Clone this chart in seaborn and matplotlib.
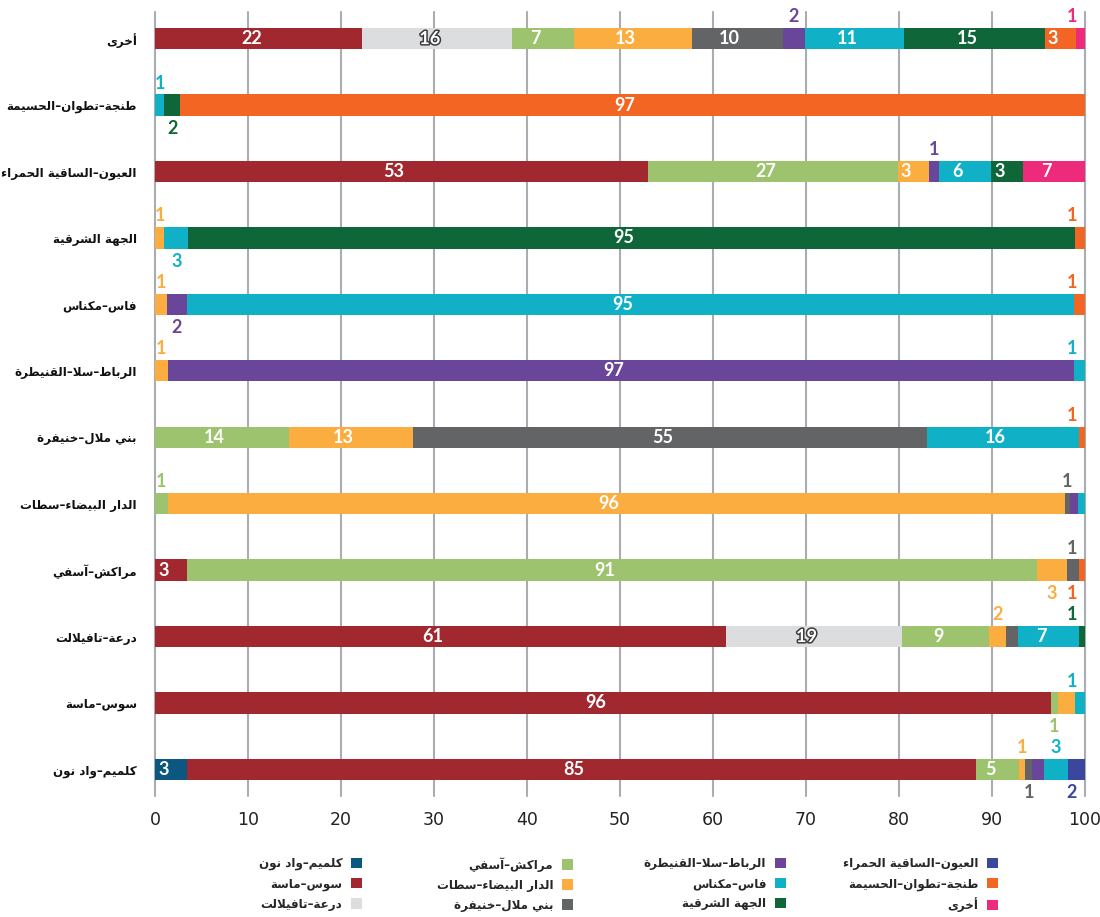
import numpy as np
import matplotlib
matplotlib.use("Agg")
import matplotlib.pyplot as plt
import matplotlib.patheffects as pe
from matplotlib.patches import Patch
import seaborn as sns

# Destination regions, top to bottom
regions = ["أخرى", "طنجة–تطوان–الحسيمة", "العيون–الساقية الحمراء", "الجهة الشرقية",
           "فاس–مكناس", "الرباط–سلا–القنيطرة", "بني ملال–خنيفرة", "الدار البيضاء–سطات",
           "مراكش–آسفي", "درعة–تافيلالت", "سوس–ماسة", "كلميم–واد نون"]

# Source regions, in stacking order (left to right)
sources = ["كلميم–واد نون", "سوس–ماسة", "درعة–تافيلالت", "مراكش–آسفي",
           "الدار البيضاء–سطات", "بني ملال–خنيفرة", "الرباط–سلا–القنيطرة", "فاس–مكناس",
           "الجهة الشرقية", "طنجة–تطوان–الحسيمة", "العيون–الساقية الحمراء", "أخرى"]

# Share (%) contributed by each source region, aligned with `regions`
guelmim   = [0, 0, 0, 0, 0, 0, 0, 0, 0, 0, 0, 3.4]
souss     = [22.3, 0, 53.0, 0, 0, 0, 0, 0, 3.4, 61.4, 96.3, 84.9]
draa      = [16.1, 0, 0, 0, 0, 0, 0, 0, 0, 18.9, 0, 0]
marrakech = [6.7, 0, 26.9, 0, 0, 0, 14.4, 1.4, 91.4, 9.4, 0.8, 4.6]
casa      = [12.6, 0, 3.3, 1.0, 1.3, 1.4, 13.3, 96.4, 3.3, 1.8, 1.8, 0.7]
benimellal= [9.8, 0, 0, 0, 0, 0, 55.3, 0.6, 1.3, 1.3, 0, 0.7]
rabat     = [2.4, 0, 1.1, 0, 2.1, 97.4, 0, 0.8, 0, 0, 0, 1.3]
fes       = [10.6, 1.0, 5.6, 2.6, 95.4, 1.2, 16.4, 0.8, 0, 6.6, 1.1, 2.6]
oriental  = [15.2, 1.7, 3.4, 95.3, 0, 0, 0, 0, 0, 0.6, 0, 0]
tanger    = [3.3, 97.3, 0, 1.1, 1.2, 0, 0.6, 0, 0.6, 0, 0, 0]
laayoune  = [0, 0, 0, 0, 0, 0, 0, 0, 0, 0, 0, 1.8]
other     = [1.0, 0, 6.7, 0, 0, 0, 0, 0, 0, 0, 0, 0]

colors = ["#0b5780", "#a1282e", "#dcdddf", "#9dc36f", "#fbad3f", "#636466",
          "#6a469a", "#10b1c6", "#0f6639", "#f26522", "#3a479c", "#ee2a7b"]

# Small segments whose value label sits above ('up') or below ('down') the bar
OUTSIDE = {(0, 6): "up", (0, 11): "up", (1, 7): "up", (1, 8): "down", (2, 6): "up",
           (3, 4): "up", (3, 7): "down", (3, 9): "up", (4, 4): "up", (4, 6): "down",
           (4, 9): "up", (5, 4): "up", (5, 7): "up", (6, 9): "up", (7, 3): "up",
           (7, 5): "up", (8, 4): "down", (8, 5): "up", (8, 9): "down", (9, 4): "up",
           (9, 8): "up", (10, 3): "down", (10, 7): "up", (11, 4): "up", (11, 5): "down",
           (11, 7): "up", (11, 10): "down"}
# Tiny segments drawn without a label
UNLABELLED = {(7, 6), (7, 7), (9, 5), (10, 4), (11, 6)}

# ---- Arabic contextual shaping (presentation forms) + visual RTL order ----
_FORMS = {
    "ء": (0xFE80, 1), "آ": (0xFE81, 2), "أ": (0xFE83, 2), "ؤ": (0xFE85, 2), "إ": (0xFE87, 2),
    "ئ": (0xFE89, 4), "ا": (0xFE8D, 2), "ب": (0xFE8F, 4), "ة": (0xFE93, 2), "ت": (0xFE95, 4),
    "ث": (0xFE99, 4), "ج": (0xFE9D, 4), "ح": (0xFEA1, 4), "خ": (0xFEA5, 4), "د": (0xFEA9, 2),
    "ذ": (0xFEAB, 2), "ر": (0xFEAD, 2), "ز": (0xFEAF, 2), "س": (0xFEB1, 4), "ش": (0xFEB5, 4),
    "ص": (0xFEB9, 4), "ض": (0xFEBD, 4), "ط": (0xFEC1, 4), "ظ": (0xFEC5, 4), "ع": (0xFEC9, 4),
    "غ": (0xFECD, 4), "ف": (0xFED1, 4), "ق": (0xFED5, 4), "ك": (0xFED9, 4), "ل": (0xFEDD, 4),
    "م": (0xFEE1, 4), "ن": (0xFEE5, 4), "ه": (0xFEE9, 4), "و": (0xFEED, 2), "ى": (0xFEEF, 2),
    "ي": (0xFEF1, 4),
}
_LAM_ALEF = {"آ": (0xFEF5, 0xFEF6), "أ": (0xFEF7, 0xFEF8), "إ": (0xFEF9, 0xFEFA), "ا": (0xFEFB, 0xFEFC)}


def shape(text):
    out, prev_joins, i = [], False, 0
    while i < len(text):
        c = text[i]
        nxt = text[i + 1] if i + 1 < len(text) else ""
        if c not in _FORMS:
            out.append(c)
            prev_joins = False
            i += 1
            continue
        if c == "ل" and nxt in _LAM_ALEF:
            iso, fin = _LAM_ALEF[nxt]
            out.append(chr(fin if prev_joins else iso))
            prev_joins = False
            i += 2
            continue
        base, k = _FORMS[c]
        can_next = k == 4 and nxt in _FORMS and _FORMS[nxt][1] > 1
        if k == 1:
            g = base
        elif prev_joins and can_next:
            g = base + 3
        elif prev_joins:
            g = base + 1
        elif can_next:
            g = base + 2
        else:
            g = base
        out.append(chr(g))
        prev_joins = can_next
        i += 1
    return "".join(reversed(out))


sns.set_theme(style="white")
plt.rcParams["font.family"] = ["DejaVu Sans"]

series = [guelmim, souss, draa, marrakech, casa, benimellal, rabat, fes,
          oriental, tanger, laayoune, other]
vals = np.array(series, dtype=float)          # (sources, regions)
cum = np.cumsum(vals, axis=0)
start = cum - vals

row_labels = [shape(r) for r in regions]

fig = plt.figure(figsize=(11, 9.17), dpi=100)
ax = fig.add_axes([155 / 1100, 1 - 796 / 917, 930 / 1100, 784 / 917])

# Stacked bars: draw cumulative totals from the last source back to the first
for s in reversed(range(len(sources))):
    sns.barplot(x=cum[s], y=row_labels, order=row_labels, orient="h",
                color=colors[s], saturation=1, width=0.32, linewidth=0,
                errorbar=None, ax=ax)

ax.set_xlim(0, 100)
ax.set_ylim(11.4, -0.4)
ax.set_xticks(range(0, 101, 10))
ax.set_xlabel("")
ax.set_ylabel("")
ax.set_axisbelow(True)
ax.xaxis.grid(True, color="#a9acb0", linewidth=1.5)
ax.yaxis.grid(False)
for gl in ax.get_xgridlines():
    gl.set_clip_on(False)
for sp in ax.spines.values():
    sp.set_visible(False)
ax.tick_params(axis="both", length=0)
ax.tick_params(axis="x", pad=11)
ax.tick_params(axis="y", pad=13)
for t in ax.get_xticklabels():
    t.set_fontfamily(["Liberation Sans Narrow", "DejaVu Sans"])
    t.set_fontsize(12.5)
    t.set_color("#222222")
for t in ax.get_yticklabels():
    t.set_fontweight("bold")
    t.set_fontsize(8.6)
    t.set_color("#111111")

# Value labels
lab_font = dict(family=["Lato", "DejaVu Sans"], weight="bold", fontsize=13)
for r in range(len(regions)):
    for s in range(len(sources)):
        v = vals[s, r]
        if v <= 0 or (r, s) in UNLABELLED:
            continue
        xc = start[s, r] + v / 2 - 0.8
        txt = f"{v:.0f}"
        place = OUTSIDE.get((r, s), "in")
        if place == "in":
            t = ax.text(xc, r, txt, color="white", ha="center", va="center", **lab_font)
            if s == 2:
                t.set_path_effects([pe.withStroke(linewidth=2.2, foreground="#3c3c3c")])
        else:
            xc = min(max(start[s, r] + v / 2, 0.4), 98.6)
            y = r - 0.33 if place == "up" else r + 0.35
            ax.text(xc, y, txt, color=colors[s], ha="center", va="center", **lab_font)

# Legend: four right-aligned columns with the swatch after the text
legend_cols = [[0, 1, 2], [3, 4, 5], [6, 7, 8], [10, 9, 11]]
col_right_px = [362, 573, 786, 998]
for cols, xr in zip(legend_cols, col_right_px):
    handles = [Patch(facecolor=colors[i], edgecolor="none") for i in cols]
    labels = [shape(sources[i]) for i in cols]
    fig.legend(handles, labels, loc="upper right", bbox_to_anchor=(xr / 1100, 1 - 857 / 917),
               ncol=1, markerfirst=False, frameon=False, borderpad=0, borderaxespad=0,
               handlelength=0.95, handleheight=0.95, handletextpad=0.7, labelspacing=0.58,
               prop=dict(family="DejaVu Sans", weight="bold", size=8.6))

fig.savefig("out.png", dpi=100, facecolor="white")
